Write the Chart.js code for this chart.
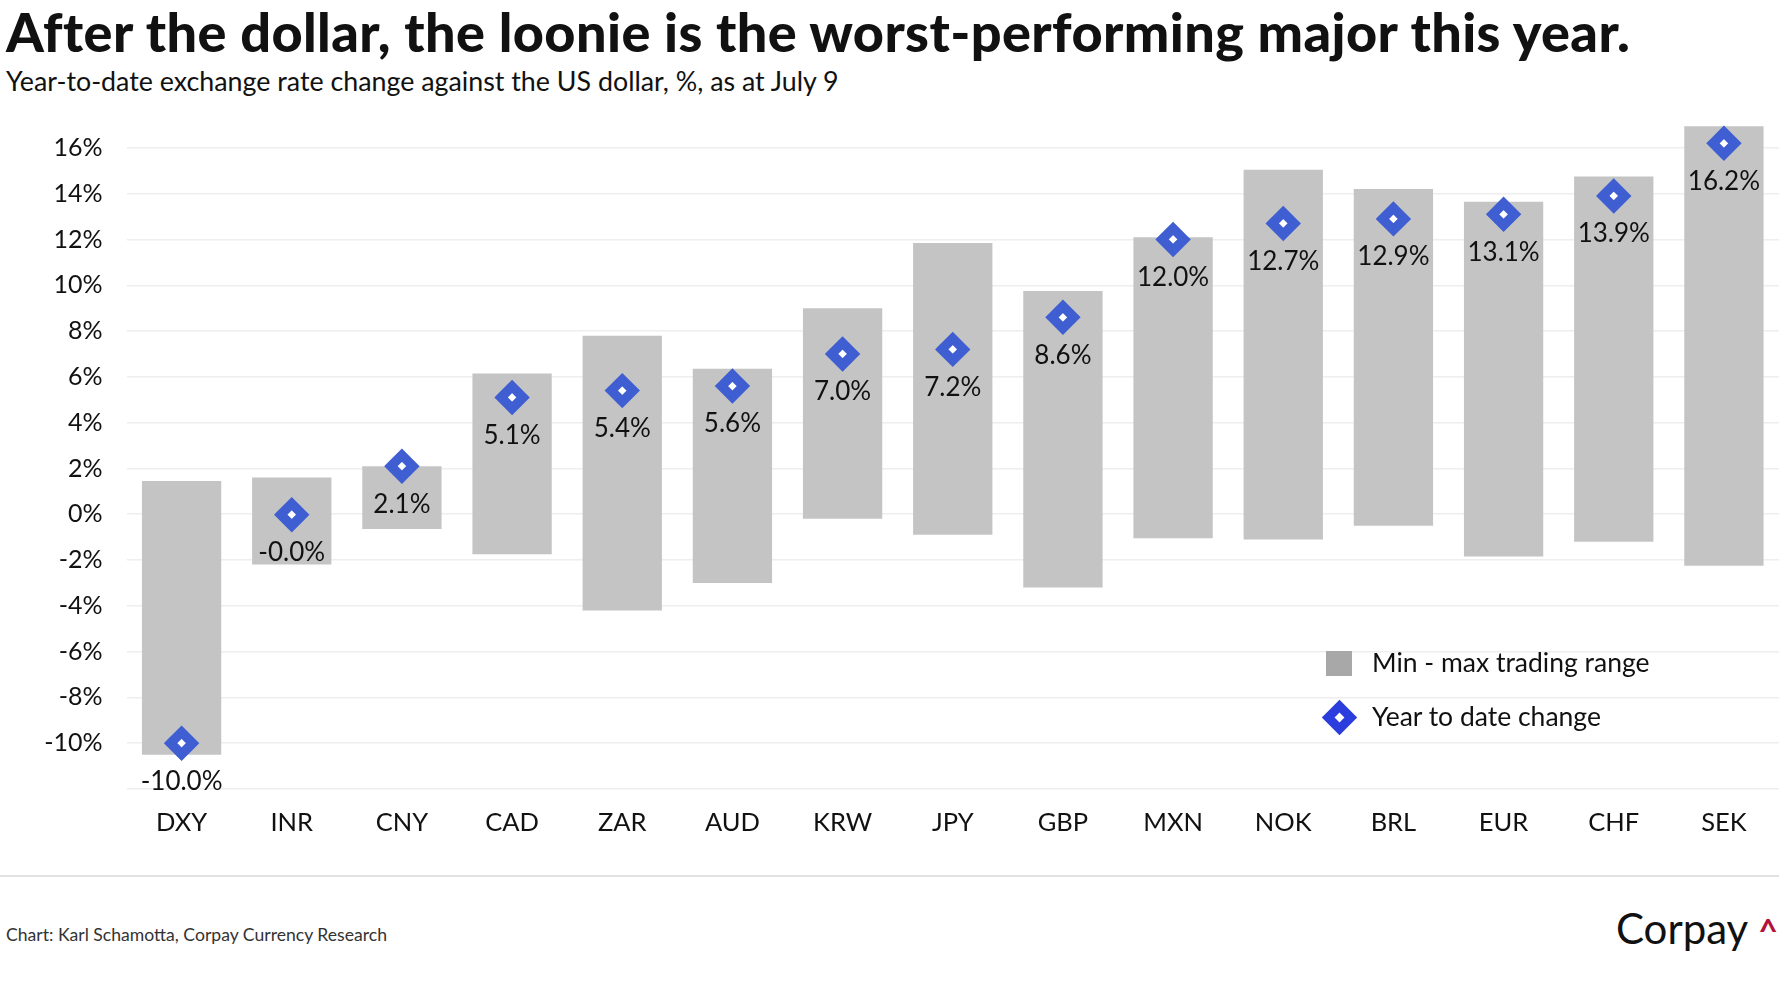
<!DOCTYPE html>
<html>
<head>
<meta charset="utf-8">
<script src="https://cdn.jsdelivr.net/npm/chart.js@4.4.1/dist/chart.umd.min.js"></script>
<style>
  html, body { margin: 0; padding: 0; background: #fff; }
  body { width: 1779px; height: 1000px; position: relative; overflow: hidden; font-family: Lato, "Noto Sans", sans-serif; color: #111; }
  .abs { position: absolute; line-height: 1; white-space: nowrap; }
  #title { left: 6px; top: 5px; font-size: 54px; font-weight: 900; letter-spacing: 0.4px; color: #111; }
  #subtitle { left: 6px; top: 68px; font-size: 26.8px; color: #111; }
  #chartBox { position: absolute; left: 0; top: 100px; width: 1779px; height: 760px; }
  #rule { position: absolute; left: 0; top: 875px; width: 1779px; height: 2px; background: #e2e2e2; }
  #footer { left: 6px; top: 926px; font-size: 17.6px; color: #333; }
  #logo { right: 1px; top: 907px; font-size: 42px; color: #111; }
  #logo span { color: #b3123d; font-weight: 700; font-size: 34px; position: relative; top: 0px; margin-left: 10px; }
  .legText { left: 1372px; font-size: 26.5px; color: #111; }
  #legSquare { position: absolute; left: 1326px; top: 651px; width: 26px; height: 25px; background: #a8a8a8; }
  #legDiamond { position: absolute; left: 1327px; top: 705px; width: 25px; height: 25px; box-sizing: border-box; background: #fff; border: 9.5px solid #2b3ddc; transform: rotate(45deg); }
</style>
</head>
<body>
<div class="abs" id="title">After the dollar, the loonie is the worst-performing major this year.</div>
<div class="abs" id="subtitle">Year-to-date exchange rate change against the US dollar, %, as at July 9</div>
<div id="chartBox"><canvas id="fxChart" width="1779" height="760"></canvas></div>
<div id="legSquare"></div>
<div class="abs legText" style="top:649px">Min - max trading range</div>
<div id="legDiamond"></div>
<div class="abs legText" style="top:703px">Year to date change</div>
<div id="rule"></div>
<div class="abs" id="footer">Chart: Karl Schamotta, Corpay Currency Research</div>
<div class="abs" id="logo">Corpay<span>^</span></div>
<script>
const currencies = ['DXY', 'INR', 'CNY', 'CAD', 'ZAR', 'AUD', 'KRW', 'JPY', 'GBP', 'MXN', 'NOK', 'BRL', 'EUR', 'CHF', 'SEK'];
const rangeLow  = [-10.5, -2.2, -0.65, -1.75, -4.2, -3.0, -0.2, -0.9, -3.2, -1.05, -1.1, -0.5, -1.85, -1.2, -2.25];
const rangeHigh = [1.45, 1.6, 2.1, 6.15, 7.8, 6.35, 9.0, 11.85, 9.75, 12.1, 15.05, 14.2, 13.65, 14.75, 16.95];
const ytdChange = [-10.0, -0.02, 2.1, 5.1, 5.4, 5.6, 7.0, 7.2, 8.6, 12.0, 12.7, 12.9, 13.1, 13.9, 16.2];
const yTickValues = [-12, -10, -8, -6, -4, -2, 0, 2, 4, 6, 8, 10, 12, 14, 16];

const BAR_GREY = '#c4c4c4';
const DIAMOND_BLUE = '#3f5ed2';

// value labels under each diamond
const ytdLabels = {
  id: 'ytdLabels',
  afterDatasetsDraw(chart) {
    const meta = chart.getDatasetMeta(1);
    const ctx = chart.ctx;
    ctx.save();
    ctx.font = '26px Lato';
    ctx.fillStyle = '#111';
    ctx.textAlign = 'center';
    ctx.textBaseline = 'middle';
    meta.data.forEach((pt, i) => {
      ctx.fillText(ytdChange[i].toFixed(1) + '%', pt.x, pt.y + 38);
    });
    ctx.restore();
  }
};

new Chart(document.getElementById('fxChart'), {
  type: 'bar',
  data: {
    labels: currencies,
    datasets: [{
      label: 'Min - max trading range',
      data: currencies.map((_, i) => [rangeLow[i], rangeHigh[i]]),
      backgroundColor: BAR_GREY,
      borderWidth: 0,
      barPercentage: 0.72,
      categoryPercentage: 1,
      order: 1,
    }, {
      type: 'line',
      label: 'Year to date change',
      data: ytdChange,
      showLine: false,
      pointStyle: 'rectRot',
      pointRadius: 11,
      pointHoverRadius: 11,
      pointBorderWidth: 9.5,
      pointBackgroundColor: '#fff',
      pointBorderColor: DIAMOND_BLUE,
      clip: false,
      order: 0,
    }],
  },
  options: {
    responsive: false,
    maintainAspectRatio: false,
    animation: false,
    devicePixelRatio: 1,
    layout: { autoPadding: false, padding: { top: 25, left: 0, right: 0, bottom: 0 } },
    plugins: { legend: { display: false }, tooltip: { enabled: false } },
    scales: {
      x: {
        grid: { display: false },
        border: { display: false },
        ticks: { color: '#111', font: { family: 'Lato', size: 25.5 }, padding: 10, maxRotation: 0 },
        afterFit: s => { s.height = 71; },
      },
      y: {
        min: -12,
        max: 17,
        afterBuildTicks: s => { s.ticks = yTickValues.map(v => ({ value: v })); },
        // invisible tick marks give the gap between labels and plot
        grid: { color: '#eeeeee', lineWidth: 1.5, drawTicks: true, tickLength: 24, tickColor: 'rgba(0,0,0,0)' },
        border: { display: false },
        ticks: {
          color: '#111',
          font: { family: 'Lato', size: 25 },
          padding: 0,
          callback: v => v === -12 ? '' : v + '%',
        },
        afterFit: s => { s.width = 126.5; },
      },
    },
  },
  plugins: [ytdLabels],
});
</script>
</body>
</html>
